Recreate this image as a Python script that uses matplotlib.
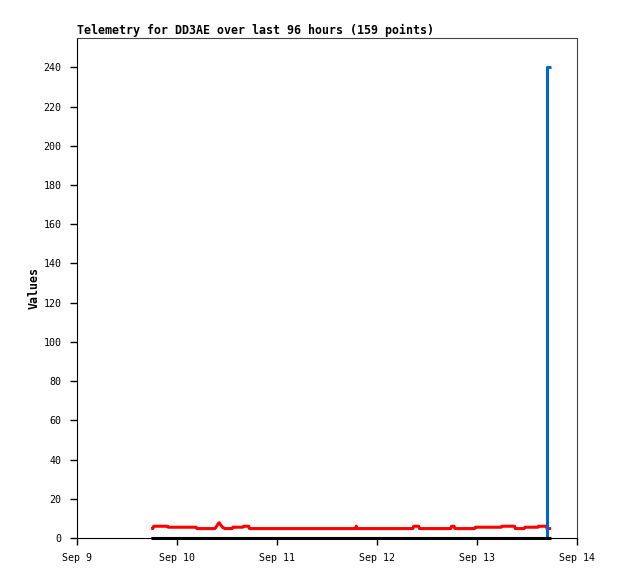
import matplotlib
matplotlib.use('Agg')
import matplotlib.pyplot as plt

# hours since Sep 9 00:00
red_t = [17.8, 18.2, 18.4, 21.7, 21.9, 28.6, 28.8, 33.1, 34.1, 34.9, 35.5,
         37.2, 37.4, 39.8, 40.0, 41.2, 41.4, 66.9, 67.0, 67.2, 80.6, 80.8,
         82.0, 82.2, 89.7, 89.9, 90.5, 90.7, 95.4, 95.6, 101.8, 102.0, 105.0,
         105.2, 107.3, 107.5, 110.6, 110.8, 112.6, 112.8, 113.8]
red_v = [4.8, 4.8, 6.0, 6.0, 5.5, 5.5, 4.8, 4.8, 7.8, 5.5, 4.8,
         4.8, 5.5, 5.5, 6.0, 6.0, 4.8, 4.8, 6.0, 4.8, 4.8, 6.0,
         6.0, 4.8, 4.8, 6.0, 6.0, 4.8, 4.8, 5.5, 5.5, 6.0, 6.0,
         4.8, 4.8, 5.5, 5.5, 6.0, 6.0, 4.8, 4.8]

blue_t = [17.8, 112.8, 113.8]
blue_v = [0, 240, 240]

black_t = [17.8, 113.8]
black_v = [0, 0]

day_ticks = [0, 24, 48, 72, 96, 120]
day_labels = ['Sep 9', 'Sep 10', 'Sep 11', 'Sep 12', 'Sep 13', 'Sep 14']
y_ticks = list(range(0, 241, 20))

mono = 'DejaVu Sans Mono'

fig = plt.figure(figsize=(6.18, 5.79), dpi=100)
ax = fig.add_axes([77/618, 1-538/579, 500/618, 500/579])

ax.plot(red_t, red_v, color='#ff0000', lw=2.2, solid_capstyle='butt', zorder=3)
ax.plot(blue_t, blue_v, color='#0066cc', lw=2.2, drawstyle='steps-post',
        solid_capstyle='butt', zorder=4)
ax.plot(black_t, black_v, color='black', lw=2.2, solid_capstyle='butt',
        clip_on=False, zorder=5)

ax.set_xlim(0, 120)
ax.set_ylim(0, 255)
ax.set_xticks(day_ticks)
ax.set_xticklabels(day_labels, fontfamily=mono, fontsize=7.2)
ax.set_yticks(y_ticks)
ax.set_yticklabels([str(v) for v in y_ticks], fontfamily=mono, fontsize=7.2)
ax.tick_params(direction='out', length=5, width=1, color='black', pad=6)

for s in ['top', 'right']:
    ax.spines[s].set_color('#444444')
for s in ['left', 'bottom']:
    ax.spines[s].set_color('black')

ax.set_title('Telemetry for DD3AE over last 96 hours (159 points)', loc='left',
             fontfamily=mono, fontweight='bold', fontsize=8.4, pad=3)
ax.set_ylabel('Values', fontfamily=mono, fontweight='bold', fontsize=8.4,
              labelpad=2.5)

fig.savefig('out.png', dpi=100)
